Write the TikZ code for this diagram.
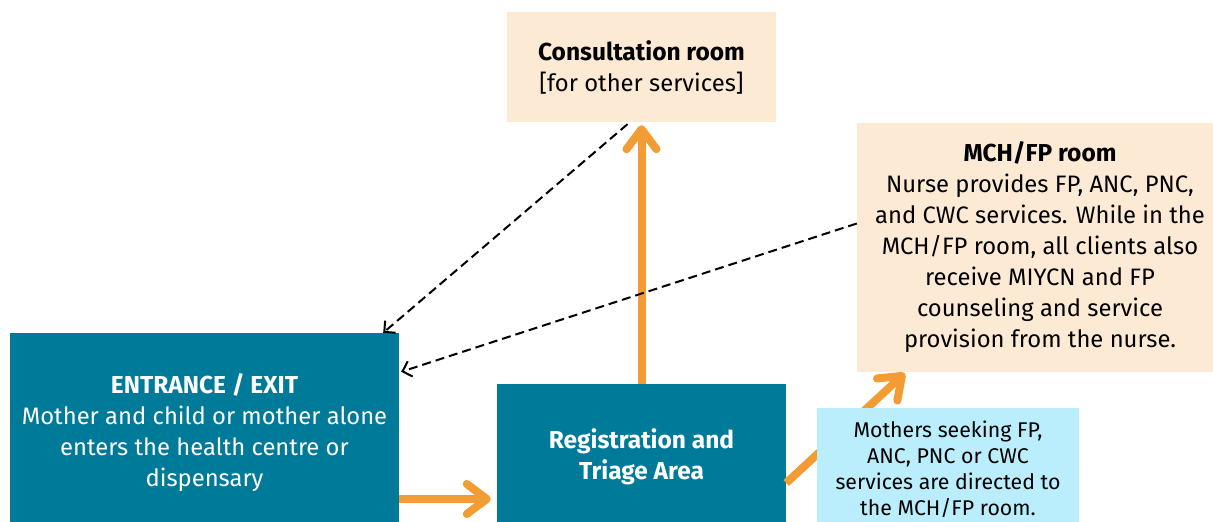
\documentclass[tikz,border=0pt]{standalone}
\usepackage{fontspec}
\setmainfont{Fira Sans}
\usetikzlibrary{arrows.meta}
\definecolor{areateal}{RGB}{0,122,153}
\definecolor{roompeach}{RGB}{253,234,213}
\definecolor{noteblue}{RGB}{186,238,252}
\definecolor{floworange}{RGB}{243,156,51}
\newcommand{\boxtitle}[1]{{\fontsize{24.5}{31}\selectfont\bfseries #1}}

\begin{document}
\begin{tikzpicture}[x=1pt,y=-1pt,
    room/.style={fill=roompeach, inner sep=0pt, align=center, text=black,
        font=\fontsize{23.8}{31}\selectfont},
    area/.style={fill=areateal, inner sep=0pt, align=center, text=white,
        font=\fontsize{23.8}{31}\selectfont},
    note/.style={fill=noteblue, inner sep=0pt, align=center, text=black,
        font=\fontsize{21.3}{26}\selectfont},
    flow/.style={draw=floworange, line width=8pt,
        -{Straight Barb[round, length=20pt, width=30pt]}},
    back/.style={draw=black, line width=2pt, dash pattern=on 9pt off 5pt,
        -{Straight Barb[length=8pt, width=16pt]}}]
    \clip (0,0) rectangle (1213,522);
    % rooms
    \node[room, minimum width=269pt, minimum height=110pt] (consult) at (641.5,67)
        {\boxtitle{Consultation room}\\{}[for other services]};
    \node[room, minimum width=366pt, minimum height=249pt] (mch) at (1040,247.5)
        {\boxtitle{MCH/FP room}\\Nurse provides FP, ANC, PNC,\\and CWC services. While in the\\MCH/FP room, all clients also\\receive MIYCN and FP\\counseling and service\\provision from the nurse.};
    \node[area, minimum width=389pt, minimum height=200pt] (entry) at (204.5,433)
        {\boxtitle{ENTRANCE / EXIT}\\Mother and child or mother alone\\enters the health centre or\\dispensary};
    \node[area, minimum width=289pt, minimum height=146pt] (reg) at (641.5,457)
        {\boxtitle{Registration and}\\\boxtitle{Triage Area}};
    % client flow
    \coordinate (entryout) at ([yshift=-66pt]entry.east);
    \coordinate (regin) at ([xshift=-6pt,yshift=-42pt]reg.west);
    \draw[flow] (entryout) -- (regin);
    \draw[flow] (reg.north) -- ([yshift=-3pt]consult.south);
    \draw[flow] ([yshift=-26pt]reg.east) -- ([xshift=48pt,yshift=-1pt]mch.south west);
    % way out
    \draw[back] ([xshift=-14pt,yshift=-2pt]consult.south) -- ([xshift=-16pt]entry.north east);
    \draw[back] ([yshift=24pt]mch.west) -- ([xshift=2pt,yshift=-39pt]entry.north east);
    % note
    \node[note, minimum width=262pt, minimum height=123pt] (hint) at (948,469.5)
        {Mothers seeking FP,\\ANC, PNC or CWC\\services are directed to\\the MCH/FP room.};
\end{tikzpicture}
\end{document}
